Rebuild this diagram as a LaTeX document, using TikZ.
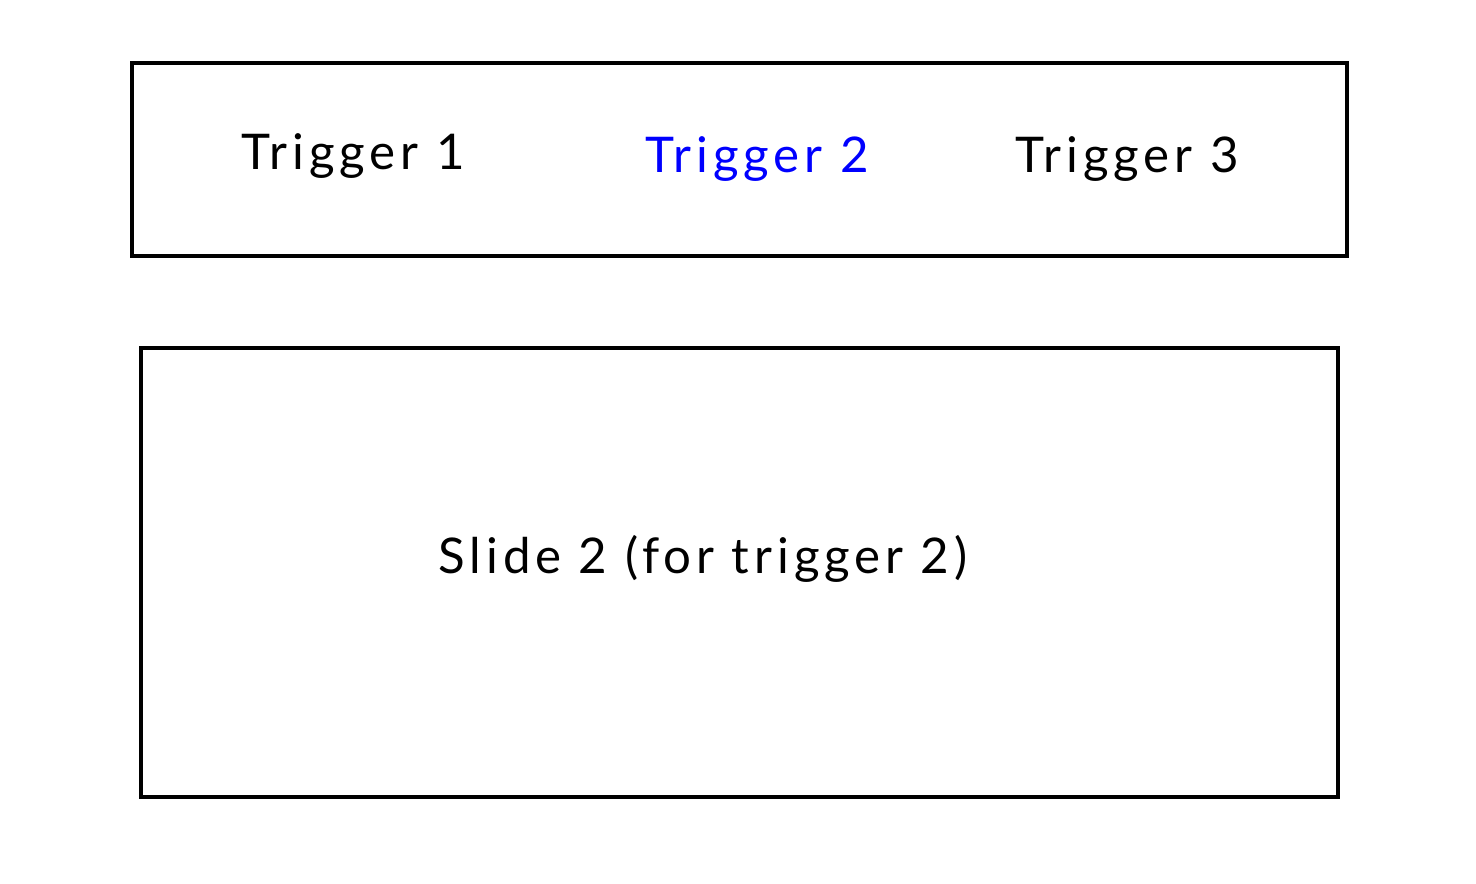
\documentclass[tikz,border=0pt]{standalone}
\usepackage{fontspec}
\setmainfont[LetterSpace=10]{Lato}
\usetikzlibrary{calc}
\tikzstyle{panel}=[draw,line width=1.2pt]
\tikzstyle{label}=[font=\fontsize{14}{17}\selectfont,inner sep=0pt]

\begin{document}
\begin{tikzpicture}[scale=1]

\useasboundingbox (0,0) rectangle (14.76,8.84);

    % trigger bar
    \draw[panel] (1.32,8.21) rectangle (13.47,6.28);
    \foreach \pos/ \name/ \txt/ \col in {{(3.53,7.28)/t1/Trigger 1/black},{(7.57,7.25)/t2/Trigger 2/blue},{(11.27,7.25)/t3/Trigger 3/black}}
        \node[label,text=\col] (\name) at \pos {\txt};

    % slide
    \draw[panel] (1.41,5.36) rectangle (13.38,0.87);
    \node[label] (slide) at (7.03,3.25) {Slide 2 (for trigger 2)};

\end{tikzpicture}
\end{document}
